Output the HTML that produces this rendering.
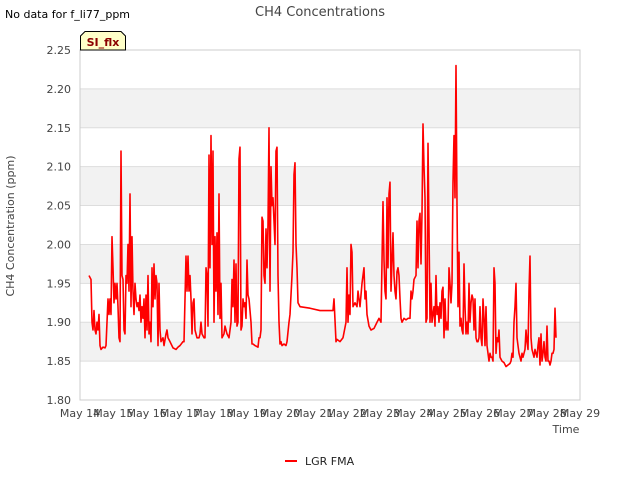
<!DOCTYPE html>
<html><head><meta charset="utf-8"><style>
body{margin:0;background:#fff;font-family:"Liberation Sans","DejaVu Sans",sans-serif}
svg text{font-family:"DejaVu Sans","Liberation Sans",sans-serif}
</style></head><body>
<svg id="c" width="640" height="480" viewBox="0 0 640 480">
<text x="5" y="18" font-size="11" fill="#000">No data for f_li77_ppm</text>
<text x="320" y="16" font-size="13" fill="#444" text-anchor="middle">CH4 Concentrations</text>
<g id="bands"></g>
<g id="grid"></g>
<g id="yt"></g>
<g id="xt"></g>
<rect x="80" y="50" width="500" height="350" fill="none" stroke="#ccc"/>
<path id="line" fill="none" stroke="#ff0000" stroke-width="1.6" stroke-linejoin="round"/>
<g>
<path d="M80.5,50 L80.5,36 L85,31.5 L121,31.5 L125.5,36 L125.5,50 Z" fill="#ffffc8" stroke="#000"/>
<text x="103" y="46" font-size="11" font-weight="bold" fill="#8b0000" text-anchor="middle">SI_flx</text>
</g>
<text x="14" y="226" font-size="11" fill="#444" text-anchor="middle" transform="rotate(-90 14 226)">CH4 Concentration (ppm)</text>
<text x="566" y="433" font-size="11" fill="#444" text-anchor="middle">Time</text>
<g>
<line x1="285" y1="461" x2="297" y2="461" stroke="#ff0000" stroke-width="2"/>
<text x="305" y="465" font-size="11" fill="#222">LGR FMA</text>
</g>
</svg>
<script>
const yTicks=[1.80,1.85,1.90,1.95,2.00,2.05,2.10,2.15,2.20,2.25];
const xLabels=["May 14","May 15","May 16","May 17","May 18","May 19","May 20","May 21","May 22","May 23","May 24","May 25","May 26","May 27","May 28","May 29"];
const times=[.27,.33,.36,.39,.42,.45,.48,.51,.54,.57,.60,.63,.69,.75,.78,.81,.84,.87,.90,.93,.96,.99,1.02,1.05,1.08,1.11,1.14,1.17,1.20,1.23,1.26,1.29,1.32,1.35,1.38,1.41,1.44,1.47,1.50,1.53,1.56,1.59,1.62,1.65,1.68,1.71,1.74,1.77,1.80,1.83,1.86,1.89,1.92,1.95,1.98,2.01,2.04,2.07,2.10,2.13,2.16,2.19,2.22,2.25,2.28,2.31,2.34,2.37,2.40,2.43,2.49,2.52,2.58,2.61,2.64,2.70,2.79,2.88,2.94,3.00,3.09,3.12,3.18,3.21,3.24,3.27,3.30,3.33,3.36,3.39,3.42,3.45,3.51,3.57,3.60,3.63,3.66,3.72,3.75,3.78,3.81,3.84,3.87,3.90,3.93,3.96,3.99,4.02,4.05,4.08,4.11,4.14,4.17,4.20,4.23,4.26,4.32,4.35,4.41,4.47,4.53,4.56,4.59,4.62,4.65,4.68,4.71,4.74,4.77,4.80,4.83,4.86,4.89,4.92,4.95,4.98,5.01,5.04,5.07,5.10,5.13,5.16,5.19,5.25,5.34,5.37,5.40,5.43,5.46,5.49,5.52,5.55,5.58,5.61,5.64,5.67,5.70,5.73,5.76,5.79,5.82,5.85,5.88,5.91,5.94,5.97,6.00,6.03,6.06,6.12,6.18,6.21,6.27,6.30,6.36,6.39,6.42,6.45,6.48,6.51,6.54,6.60,6.90,7.20,7.59,7.62,7.68,7.71,7.80,7.89,7.98,8.01,8.04,8.07,8.10,8.13,8.16,8.19,8.25,8.31,8.34,8.40,8.46,8.52,8.55,8.58,8.61,8.67,8.73,8.82,8.91,8.97,9.03,9.09,9.12,9.15,9.18,9.21,9.24,9.27,9.30,9.33,9.39,9.42,9.45,9.48,9.51,9.54,9.57,9.60,9.63,9.66,9.72,9.78,9.84,9.90,9.93,9.96,9.99,10.02,10.08,10.11,10.14,10.17,10.20,10.23,10.26,10.29,10.32,10.35,10.38,10.41,10.44,10.47,10.50,10.53,10.56,10.59,10.62,10.65,10.68,10.71,10.74,10.77,10.80,10.83,10.86,10.89,10.92,10.95,10.98,11.01,11.04,11.07,11.10,11.13,11.16,11.19,11.22,11.25,11.28,11.31,11.34,11.37,11.40,11.43,11.46,11.49,11.52,11.55,11.58,11.61,11.64,11.67,11.70,11.73,11.76,11.79,11.82,11.85,11.88,11.91,11.94,11.97,12.00,12.03,12.06,12.09,12.12,12.15,12.18,12.21,12.24,12.27,12.30,12.33,12.36,12.39,12.42,12.45,12.48,12.51,12.54,12.57,12.60,12.66,12.72,12.78,12.84,12.90,12.93,12.96,12.99,13.02,13.05,13.08,13.11,13.14,13.17,13.20,13.23,13.26,13.29,13.32,13.35,13.38,13.41,13.44,13.47,13.50,13.53,13.56,13.59,13.62,13.65,13.68,13.71,13.74,13.77,13.80,13.83,13.86,13.89,13.92,13.95,13.98,14.01,14.04,14.07,14.10,14.13,14.16,14.19,14.22,14.25,14.28];
const ch4=[1.96,1.955,1.90,1.89,1.915,1.89,1.885,1.90,1.89,1.91,1.87,1.865,1.868,1.867,1.87,1.90,1.93,1.91,1.93,1.91,2.01,1.97,1.925,1.95,1.93,1.95,1.92,1.88,1.875,2.12,1.96,1.955,1.89,1.885,1.96,1.95,2.00,1.94,2.065,1.92,2.01,1.94,1.91,1.95,1.93,1.92,1.925,1.915,1.935,1.90,1.92,1.905,1.93,1.88,1.935,1.89,1.96,1.885,1.90,1.875,1.97,1.92,1.975,1.93,1.96,1.95,1.87,1.95,1.89,1.875,1.88,1.87,1.885,1.89,1.88,1.875,1.867,1.865,1.868,1.87,1.875,1.875,1.985,1.94,1.985,1.94,1.96,1.93,1.885,1.925,1.93,1.89,1.88,1.88,1.885,1.90,1.885,1.88,1.88,1.97,1.96,1.895,2.115,1.97,2.14,2.00,2.12,1.90,2.01,1.94,2.015,1.91,2.065,1.905,1.95,1.88,1.885,1.895,1.885,1.88,1.90,1.955,1.92,1.98,1.90,1.975,1.895,1.90,2.11,2.125,1.89,1.895,1.93,1.92,1.925,1.905,1.98,1.935,1.93,1.915,1.90,1.872,1.872,1.87,1.868,1.88,1.88,1.89,2.035,2.03,1.96,1.95,2.02,1.97,2.025,2.15,1.94,2.10,2.05,2.06,2.03,2.00,2.12,2.125,1.96,1.90,1.872,1.875,1.87,1.872,1.87,1.875,1.90,1.91,1.96,1.99,2.09,2.105,2.00,1.97,1.925,1.92,1.918,1.915,1.915,1.93,1.875,1.878,1.875,1.88,1.90,1.97,1.90,1.935,1.91,2.00,1.99,1.92,1.925,1.92,1.94,1.92,1.95,1.97,1.93,1.94,1.91,1.895,1.89,1.892,1.90,1.905,1.90,2.055,1.98,1.94,1.93,2.06,1.97,2.065,2.08,1.94,2.015,1.96,1.94,1.93,1.965,1.97,1.96,1.93,1.905,1.90,1.905,1.903,1.905,1.905,1.94,1.93,1.94,1.955,1.96,2.03,1.97,2.03,2.04,1.975,2.04,2.155,2.10,2.06,1.90,1.905,2.13,2.02,1.90,1.95,1.90,1.91,1.92,1.895,1.96,1.91,1.92,1.90,1.925,1.905,1.94,1.945,1.88,1.93,1.89,1.90,1.89,1.97,1.95,1.925,1.95,2.08,2.14,2.06,2.23,2.05,1.92,1.99,1.895,1.905,1.89,1.885,1.975,1.92,1.885,1.90,1.885,1.95,1.90,1.925,1.935,1.93,1.89,1.93,1.88,1.875,1.875,1.88,1.92,1.88,1.87,1.93,1.905,1.87,1.92,1.87,1.86,1.85,1.86,1.855,1.855,1.85,1.97,1.95,1.86,1.88,1.875,1.89,1.855,1.85,1.848,1.843,1.845,1.847,1.85,1.86,1.855,1.90,1.92,1.95,1.88,1.87,1.86,1.855,1.85,1.86,1.855,1.86,1.865,1.89,1.875,1.865,1.94,1.985,1.88,1.865,1.86,1.855,1.865,1.86,1.855,1.87,1.88,1.845,1.885,1.85,1.86,1.875,1.855,1.85,1.895,1.85,1.85,1.845,1.85,1.86,1.86,1.865,1.918,1.88];
const NS="http://www.w3.org/2000/svg";
const X0=80,X1=580,Y0=400,Y1=50,DMIN=0,DMAX=15,VMIN=1.80,VMAX=2.25;
function xs(d){return X0+(d-DMIN)/(DMAX-DMIN)*(X1-X0);}
function ys(v){return Y0-(v-VMIN)/(VMAX-VMIN)*(Y0-Y1);}
function mk(tag,attrs,parent){const e=document.createElementNS(NS,tag);for(const k in attrs)e.setAttribute(k,attrs[k]);parent.appendChild(e);return e;}
const bands=document.getElementById('bands'),grid=document.getElementById('grid'),yt=document.getElementById('yt'),xt=document.getElementById('xt');
for(let i=0;i<yTicks.length-1;i++){
  if(i%2===1){
    const r=mk('rect',{x:X0,y:ys(yTicks[i+1]),width:X1-X0,height:ys(yTicks[i])-ys(yTicks[i+1]),fill:'#f2f2f2'},bands);
    
    
  }
}
yTicks.forEach(v=>{
  const l=mk('line',{x1:X0,x2:X1,y1:ys(v),y2:ys(v),stroke:'#ddd'},grid);
  
  
  const t=mk('text',{x:71,y:ys(v)+4,'font-size':11,fill:'#444','text-anchor':'end'},yt);
  
  
  t.textContent=v.toFixed(2);
});
xLabels.forEach((s,i)=>{
  const t=mk('text',{x:xs(i),y:417,'font-size':11,fill:'#444','text-anchor':'middle'},xt);
  
  
  t.textContent=s;
});
document.getElementById('line').setAttribute('d',times.map((d,i)=>(i?'L':'M')+xs(d).toFixed(2)+','+ys(ch4[i]).toFixed(2)).join(''));
</script>
</body></html>
